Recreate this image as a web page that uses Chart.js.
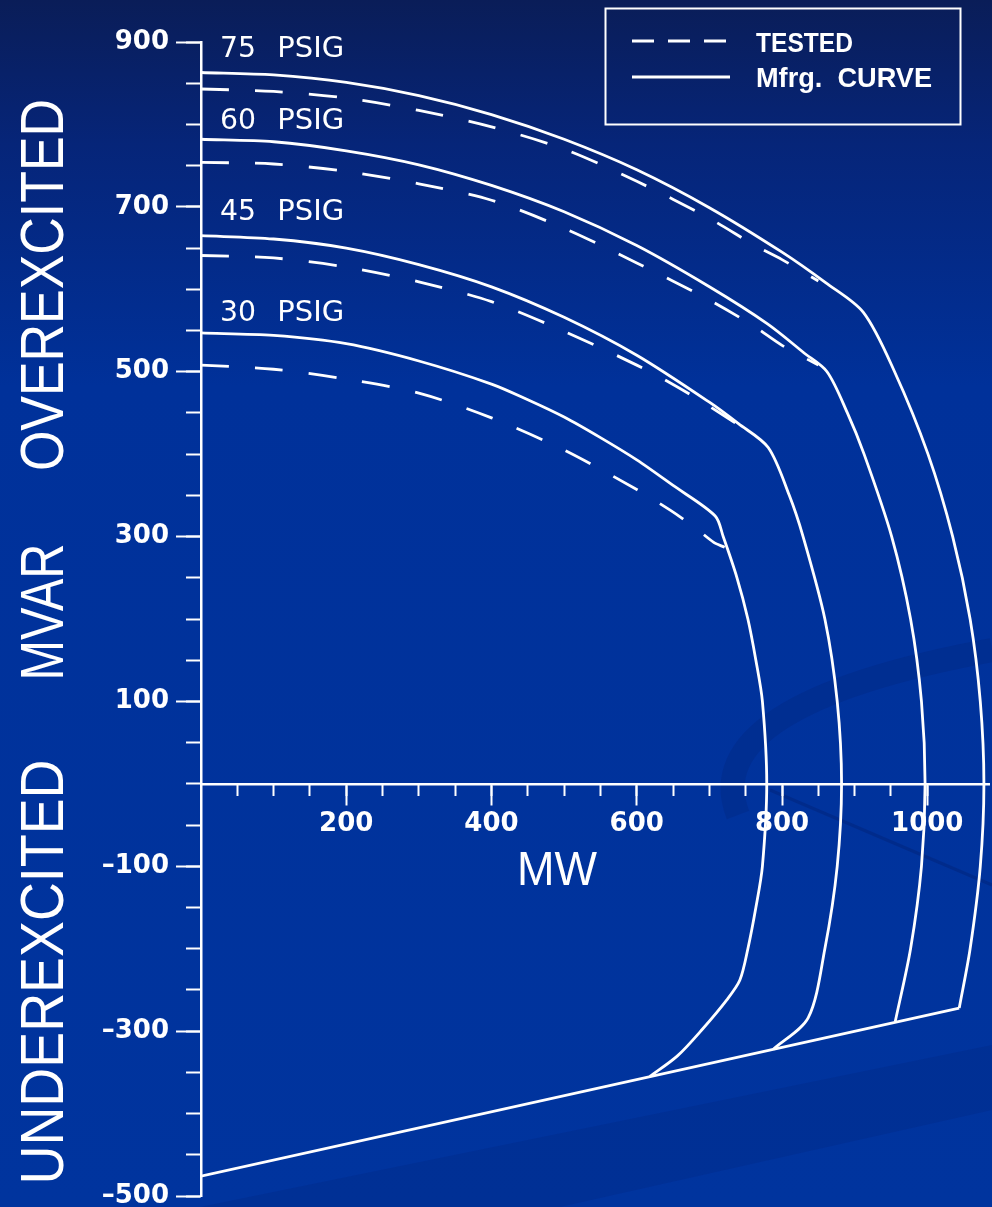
<!DOCTYPE html>
<html>
<head>
<meta charset="utf-8">
<script src="https://cdn.jsdelivr.net/npm/chart.js@4.4.1/dist/chart.umd.min.js"></script>
<style>
html,body{margin:0;padding:0;background:#00339c;overflow:hidden}
canvas{display:block}
</style>
</head>
<body>
<canvas id="c" width="992" height="1207"></canvas>
<script>
// ---- DATA (MW, MVAR) ----
const mfrg75 = [[0,863],[100,860],[200,851],[300,835],[400,812],[500,782],[600,745],[700,699],[800,645],[860,608],[912,572],[955,500],[1001,400],[1035,300],[1059,200],[1073,100],[1078,0],[1073,-100],[1059,-200],[1044,-272]];
const tested75 = [[0,843],[100,840],[200,832],[300,817],[400,797],[500,770],[600,731],[700,686],[763,653],[800,636],[850,610]];

const mfrg60 = [[0,782],[100,779],[200,768],[300,751],[400,726],[500,694],[600,653],[700,603],[780,558],[830,523],[862,500],[890,450],[913,400],[951,300],[977,200],[992,100],[997,0],[992,-100],[977,-200],[956,-288]];
const tested60 = [[0,754],[100,752],[200,743],[300,728],[400,708],[500,674],[600,632],[700,587],[760,556],[800,532],[850,508]];

const mfrg45 = [[0,665],[100,661],[200,650],[300,630],[400,603],[500,566],[600,520],[700,463],[740,437],[781,408],[810,350],[829,300],[859,200],[876,100],[882,0],[876,-100],[859,-200],[836,-284],[788,-322]];
const tested45 = [[0,641],[100,638],[200,627],[300,609],[400,585],[500,549],[600,508],[653,483],[700,458],[760,424]];

const mfrg30 = [[0,547],[100,544],[200,534],[300,513],[400,485],[450,466],[500,445],[550,420],[600,393],[650,362],[708,325],[719,300],[738,250],[753,200],[764,150],[773,100],[779,0],[773,-100],[764,-150],[753,-200],[742,-238],[724,-262],[690,-298],[656,-330],[618,-355]];
const tested30 = [[0,508],[100,503],[200,491],[300,474],[400,444],[500,405],[600,357],[646,332],[680,311],[706,293],[721,287]];

const underLimit = [[0,-476],[1044,-272]];

const psigLabels = ['75','60','45','30'];
const psigLabelMvar = [882,795,684,562];
const xTickLabels = [200,400,600,800,1000];
const yTickLabels = [900,700,500,300,100,-100,-300,-500];
const legendLabels = ['TESTED','Mfrg.  CURVE'];
const yTitleWords = ['OVEREXCITED','MVAR','UNDEREXCITED'];
const xTitle = 'MW';

// ---- helpers ----
const toXY = a => a.map(p => ({x:p[0], y:p[1]}));
const WHITE = '#ffffff';
const solid = d => ({data: toXY(d), showLine:true, borderColor:WHITE, borderWidth:2.8, pointRadius:0, tension:0.3, fill:false});
const dashed = d => ({data: toXY(d), showLine:true, borderColor:WHITE, borderWidth:2.8, borderDash:[28,26], pointRadius:0, tension:0.3, fill:false});

const bgPlugin = {
  id:'bg',
  beforeDraw(chart){
    const c = chart.ctx, W = chart.width, H = chart.height;
    c.save();
    const g = c.createLinearGradient(0,0,0,H);
    g.addColorStop(0,'#0a1d58');
    g.addColorStop(0.12,'#062579');
    g.addColorStop(0.32,'#00319a');
    g.addColorStop(1,'#00349e');
    c.fillStyle = g;
    c.fillRect(0,0,W,H);
    // faint template swooshes
    c.strokeStyle = 'rgba(0,25,100,0.18)';
    c.lineWidth = 24;
    c.beginPath();
    c.moveTo(738,815);
    c.quadraticCurveTo(695,705,992,650);
    c.stroke();
    c.lineWidth = 3;
    c.strokeStyle = 'rgba(0,25,100,0.3)';
    c.beginPath();
    c.moveTo(770,790);
    c.lineTo(992,885);
    c.stroke();
    c.fillStyle = 'rgba(0,25,100,0.15)';
    c.beginPath();
    c.moveTo(200,1207);
    c.lineTo(992,1045);
    c.lineTo(992,1110);
    c.lineTo(560,1207);
    c.closePath();
    c.fill();
    c.restore();
  }
};

const textPlugin = {
  id:'texts',
  afterDraw(chart){
    const c = chart.ctx;
    const xs = chart.scales.x, ys = chart.scales.y;
    c.save();
    c.fillStyle = WHITE;
    c.strokeStyle = WHITE;
    // PSIG labels
    c.font = '29px "DejaVu Sans", sans-serif';
    c.textBaseline = 'alphabetic';
    c.textAlign = 'left';
    psigLabels.forEach((t,i) => {
      const yb = ys.getPixelForValue(psigLabelMvar[i]);
      c.fillText(t, xs.getPixelForValue(26), yb, 36);
      c.fillText('PSIG', xs.getPixelForValue(105), yb, 67);
    });
    // y-axis title (rotated)
    c.font = '61px "Liberation Sans", Arial, sans-serif';
    c.textAlign = 'center';
    const yCenters = [285,612,972], yWidths = [372,137,425];
    yTitleWords.forEach((w,i) => {
      c.save();
      c.translate(63, yCenters[i]);
      c.rotate(-Math.PI/2);
      c.fillText(w, 0, 0, yWidths[i]);
      c.restore();
    });
    // x title
    c.font = '48px "Liberation Sans", Arial, sans-serif';
    c.fillText(xTitle, 557, 885, 80);
    // legend
    c.lineWidth = 2;
    c.strokeRect(605.5, 8.5, 355, 116);
    c.lineWidth = 2.8;
    c.setLineDash([22,14]);
    c.beginPath(); c.moveTo(632,41); c.lineTo(730,41); c.stroke();
    c.setLineDash([]);
    c.beginPath(); c.moveTo(632,77); c.lineTo(730,77); c.stroke();
    c.font = 'bold 28px "Liberation Sans", Arial, sans-serif';
    c.textAlign = 'left';
    c.fillText(legendLabels[0], 756, 52, 97);
    c.fillText(legendLabels[1], 756, 87, 176);
    c.restore();
  }
};

const tickFont = {family:'"DejaVu Sans", sans-serif', weight:'bold', size:26};
const fmt = v => v < 0 ? '\u2013' + Math.abs(v) : String(v);

new Chart(document.getElementById('c'), {
  type:'scatter',
  data:{ datasets:[
    solid(mfrg75), dashed(tested75),
    solid(mfrg60), dashed(tested60),
    solid(mfrg45), dashed(tested45),
    solid(mfrg30), dashed(tested30),
    {data: toXY(underLimit), showLine:true, borderColor:WHITE, borderWidth:2.8, pointRadius:0, tension:0}
  ]},
  options:{
    responsive:false,
    animation:false,
    devicePixelRatio:1,
    layout:{padding:{left:0, top:42, right:3, bottom:11}},
    plugins:{legend:{display:false}, tooltip:{enabled:false}},
    scales:{
      x:{
        type:'linear', axis:'x', min:0, max:1085, position:{y:0},
        grid:{display:true, drawOnChartArea:false, drawTicks:true, tickLength:20, tickWidth:2, tickColor:WHITE},
        border:{display:true, color:WHITE, width:2.5},
        ticks:{color:WHITE, font:tickFont, padding:5, maxRotation:0, autoSkip:false, callback:fmt},
        afterBuildTicks(s){ s.ticks = xTickLabels.map(v => ({value:v})); }
      },
      xMinor:{
        type:'linear', axis:'x', min:0, max:1085, position:{y:0},
        grid:{display:true, drawOnChartArea:false, drawTicks:true, tickLength:12, tickWidth:2, tickColor:WHITE},
        border:{display:false},
        ticks:{display:false, stepSize:50, autoSkip:false},
        afterBuildTicks(s){ s.ticks = s.ticks.filter(t => t.value > 0 && t.value % 50 === 0); }
      },
      y:{
        type:'linear', axis:'y', min:-500, max:900, position:'left',
        grid:{display:true, drawOnChartArea:false, drawTicks:true, tickLength:25, tickWidth:2, tickColor:WHITE},
        border:{display:true, color:WHITE, width:2.5},
        ticks:{color:WHITE, font:tickFont, padding:7, autoSkip:false, callback:fmt},
        afterBuildTicks(s){ s.ticks = yTickLabels.map(v => ({value:v})); },
        afterFit(s){ s.width = 201; s.paddingTop = 0; s.paddingBottom = 0; }
      },
      yMinor:{
        type:'linear', axis:'y', min:-500, max:900, position:{x:0},
        grid:{display:true, drawOnChartArea:false, drawTicks:true, tickLength:15, tickWidth:2, tickColor:WHITE},
        border:{display:false},
        ticks:{display:false, stepSize:50, autoSkip:false},
        afterBuildTicks(s){ s.ticks = s.ticks.filter(t => t.value % 50 === 0); }
      }
    }
  },
  plugins:[bgPlugin, textPlugin]
});
</script>
</body>
</html>
